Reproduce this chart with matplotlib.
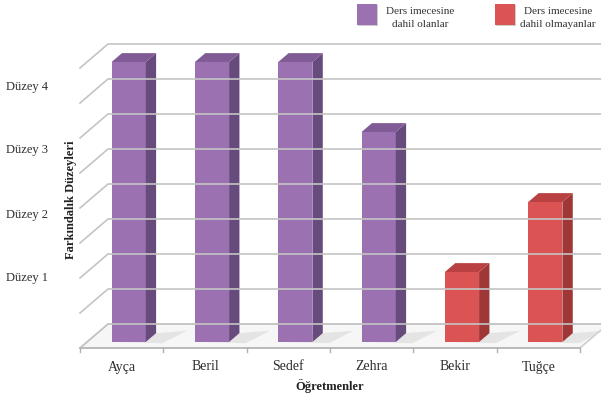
"""3B gorunumlu cubuk grafik: ogretmenlerin farkindalik duzeyleri."""
import matplotlib.pyplot as plt
from matplotlib.patches import Polygon, Rectangle

teachers = ['Ayça', 'Beril', 'Sedef', 'Zehra', 'Bekir', 'Tuğçe']
levels = [4, 4, 4, 3, 1, 2]
in_group = [True, True, True, True, False, False]
level_labels = ['Düzey 1', 'Düzey 2', 'Düzey 3', 'Düzey 4']
level_label_y = [278, 215, 150, 87]
legend_labels = ['Ders imecesine\ndahil olanlar', 'Ders imecesine\ndahil olmayanlar']

# renkler: (on, yan, ust)
PURPLE = ('#9b71b2', '#684b7d', '#805b96')
RED = ('#dc5353', '#a03737', '#b94141')

# projeksiyon (piksel)
X0, X1, Y0 = 80, 580, 348
DX, DY = 28, -24
UNIT = 70
step = (X1 - X0) / len(teachers)


def pt(x, v, d):
    return (x + DX * d, Y0 - UNIT * v + DY * d)


plt.rcParams['font.family'] = ['Liberation Serif', 'DejaVu Serif']
fig = plt.figure(figsize=(6.01, 3.98), dpi=100)
ax = fig.add_axes([0, 0, 1, 1])
ax.set_xlim(0, 601)
ax.set_ylim(398, 0)
ax.axis('off')

# taban
ax.add_patch(Polygon([pt(X0, 0, 0), pt(X1, 0, 0), pt(X1, 0, 1), pt(X0, 0, 1)],
                     closed=True, facecolor='#f6f6f6', edgecolor='#cccccc', lw=1.1))
ax.plot([X0, X1], [Y0, Y0], color='#b8b8b8', lw=1.3)

# izgara
for k in range(9):
    v = k * 0.5
    a, b, c = pt(X0, v, 0), pt(X0, v, 1), pt(X1 + 40, v, 1)
    ax.plot([a[0], b[0], c[0]], [a[1], b[1], c[1]], color='#c4c4c4', lw=1.2)

# tikler
for k in range(len(teachers) + 1):
    x = X0 + step * k
    ax.plot([x, x], [Y0, Y0 + 4], color='#b0b0b0', lw=1)

# cubuklar
bw = 0.41 * step
d0, d1 = 0.25, 0.62
for i, (name, v, g) in enumerate(zip(teachers, levels, in_group)):
    front, side, top = PURPLE if g else RED
    xl = X0 + step * (i + 0.5) - bw / 2
    xr = xl + bw
    # golge
    ax.add_patch(Polygon([pt(xl + 4, 0, d0), pt(xr + 18, 0, d0 - 0.05), pt(xr + 28, 0, d1 + 0.1),
                          pt(xr, 0, d1)], closed=True, facecolor='#d6d6d6',
                         edgecolor='none', alpha=0.55))
    ax.add_patch(Polygon([pt(xl, 0, d0), pt(xr, 0, d0), pt(xr, v, d0), pt(xl, v, d0)],
                         closed=True, facecolor=front, edgecolor='none'))
    ax.add_patch(Polygon([pt(xr, 0, d0), pt(xr, 0, d1), pt(xr, v, d1), pt(xr, v, d0)],
                         closed=True, facecolor=side, edgecolor='none'))
    ax.add_patch(Polygon([pt(xl, v, d0), pt(xr, v, d0), pt(xr, v, d1), pt(xl, v, d1)],
                         closed=True, facecolor=top, edgecolor='none'))
    ax.text(X0 + step * (i + 0.5), 367, name, ha='center', va='center',
            fontsize=10, color='#2e2e2e')

for lab, y in zip(level_labels, level_label_y):
    ax.text(6, y, lab, ha='left', va='center', fontsize=9, color='#2e2e2e')

ax.text(71, 200, 'Farkındalık Düzeyleri', rotation=90, ha='center', va='center',
        fontsize=9, fontweight='bold', color='#222222')
ax.text(330, 386, 'Öğretmenler', ha='center', va='center',
        fontsize=9, fontweight='bold', color='#222222')

# lejant
for (x_sq, x_tx), lab, col in zip([(357, 420), (495, 558)], legend_labels,
                                  [PURPLE[0], RED[0]]):
    ax.add_patch(Rectangle((x_sq + 1, 5), 20, 21, facecolor='#cccccc', edgecolor='none'))
    ax.add_patch(Rectangle((x_sq, 4), 20, 21, facecolor=col, edgecolor='none'))
    ax.text(x_tx, 18, lab, ha='center', va='center', fontsize=8,
            color='#333333', linespacing=1.5)

fig.savefig('out.png', dpi=100)
